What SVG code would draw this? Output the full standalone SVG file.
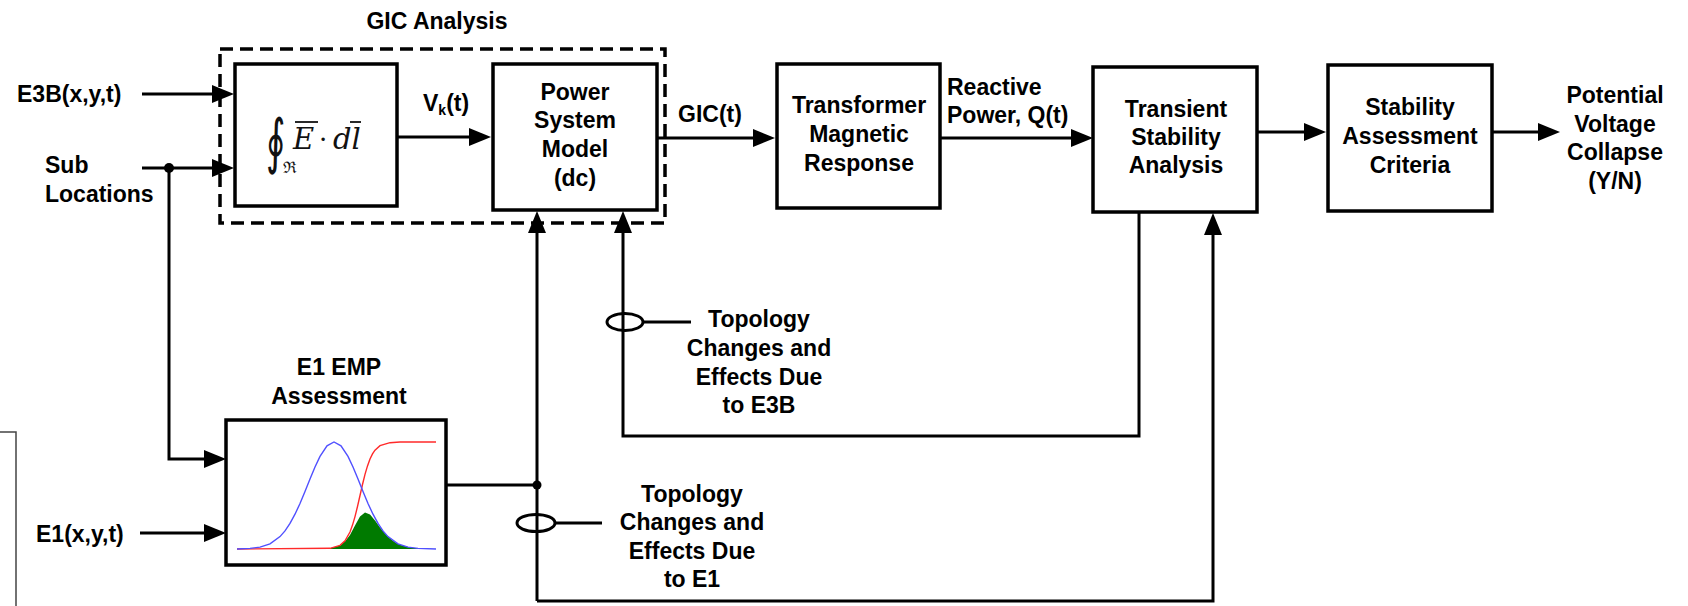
<svg xmlns="http://www.w3.org/2000/svg" width="1688" height="606" viewBox="0 0 1688 606">
  <style>
    .t { font-family: "Liberation Sans", Arial, sans-serif; font-weight: bold; font-size: 23px; fill: #000; }
    .m { text-anchor: middle; }
    .box { fill: #fff; stroke: #000; stroke-width: 3.5; }
    .ln { fill: none; stroke: #000; stroke-width: 3; }
    .ar { marker-end: url(#head); }
    .math { font-family: "DejaVu Serif", "Liberation Serif", serif; fill: #111; }
    .thin { fill: none; stroke: #444; stroke-width: 1.5; }
  </style>
  <defs>
    <marker id="head" markerUnits="userSpaceOnUse" markerWidth="22" markerHeight="18" refX="12" refY="9" orient="auto">
      <path d="M0,0 L22,9 L0,18 Z" fill="#000"/>
    </marker>
  </defs>

  <rect width="1688" height="606" fill="#fff"/>

  <!-- partial frame at the left edge -->
  <path class="thin" d="M0,432 H16 V606"/>

  <!-- GIC analysis grouping -->
  <g id="gic-analysis">
    <rect x="220" y="49" width="445" height="174" fill="none" stroke="#000" stroke-width="3.5" stroke-dasharray="13,7"/>
    <text class="t m" x="437" y="29">GIC Analysis</text>
  </g>

  <!-- input labels -->
  <g id="e3b-input">
    <text class="t" x="17" y="102">E3B(x,y,t)</text>
  </g>
  <g id="sub-locations">
    <text class="t" x="45" y="173">Sub</text>
    <text class="t" x="45" y="202">Locations</text>
  </g>
  <g id="e1-input">
    <text class="t" x="36" y="542">E1(x,y,t)</text>
  </g>

  <!-- line integral block -->
  <g id="integral">
    <rect class="box" x="235" y="64" width="162" height="142"/>
    <text class="math" transform="translate(266,162) scale(0.62,1)" font-size="60">∮</text>
    <text class="math" x="283" y="173" font-size="16">ℜ</text>
    <text class="math" x="293" y="149" font-size="29" font-style="italic">E</text>
    <line x1="295" y1="122" x2="318" y2="122" stroke="#111" stroke-width="1.8"/>
    <text class="math" x="319" y="148" font-size="26">·</text>
    <text class="math" x="333" y="149" font-size="29" font-style="italic">dl</text>
    <line x1="350" y1="122" x2="361" y2="122" stroke="#111" stroke-width="1.8"/>
  </g>

  <g id="power-system-model">
    <rect class="box" x="493" y="64" width="164" height="146"/>
    <text class="t m" x="575" y="100">Power</text>
    <text class="t m" x="575" y="128">System</text>
    <text class="t m" x="575" y="157">Model</text>
    <text class="t m" x="575" y="186">(dc)</text>
  </g>

  <g id="transformer-response">
    <rect class="box" x="777" y="64" width="163" height="144"/>
    <text class="t m" x="859" y="113">Transformer</text>
    <text class="t m" x="859" y="142">Magnetic</text>
    <text class="t m" x="859" y="171">Response</text>
  </g>

  <g id="transient-stability">
    <rect class="box" x="1093" y="67" width="164" height="145"/>
    <text class="t m" x="1176" y="117">Transient</text>
    <text class="t m" x="1176" y="145">Stability</text>
    <text class="t m" x="1176" y="173">Analysis</text>
  </g>

  <g id="stability-criteria">
    <rect class="box" x="1328" y="65" width="164" height="146"/>
    <text class="t m" x="1410" y="115">Stability</text>
    <text class="t m" x="1410" y="144">Assessment</text>
    <text class="t m" x="1410" y="173">Criteria</text>
  </g>

  <g id="collapse-output">
    <text class="t m" x="1615" y="103">Potential</text>
    <text class="t m" x="1615" y="132">Voltage</text>
    <text class="t m" x="1615" y="160">Collapse</text>
    <text class="t m" x="1615" y="189">(Y/N)</text>
  </g>

  <!-- E1 EMP assessment block with response curves -->
  <g id="e1-emp-assessment">
    <text class="t m" x="339" y="375">E1 EMP</text>
    <text class="t m" x="339" y="404">Assessment</text>
    <rect class="box" x="226" y="420" width="220" height="145"/>
    <path fill="#007a00" d="M330,549 L330,548.3 340,545.5 345,541.6 350,534.9 355,525.6 360,516.5 365,512.4 370,514.5 375,520.5 380,527.4 385,533.6 390,538.6 395,542.2 400,544.7 410,547.5 420,548.5 436,549 Z"/>
    <polyline fill="none" stroke="#ff2a2a" stroke-width="1.4" points="237,549 330,548.3 340,545.3 345,540.9 350,532 352.5,525.1 355,516.6 357.5,506.5 360,495.5 362.5,484.5 365,474.4 367.5,465.9 370,459 372.5,453.9 375,450.1 380,445.7 390,442.7 400,442 436,442"/>
    <polyline fill="none" stroke="#5050ff" stroke-width="1.4" points="237,549 250,548.4 260,547.1 270,543.9 280,536.6 285,530.9 290,523.4 295,514.2 300,503.5 305,491.5 310,479.1 315,467 320,456.4 327,445.8 334,442 341,445.8 348,456.4 353,467 358,479.1 363,491.5 368,503.5 373,514.2 378,523.4 383,530.9 388,536.6 398,543.9 408,547.1 418,548.4 436,549"/>
  </g>

  <g id="topology-e3b">
    <text class="t m" x="759" y="327">Topology</text>
    <text class="t m" x="759" y="356">Changes and</text>
    <text class="t m" x="759" y="385">Effects Due</text>
    <text class="t m" x="759" y="413">to E3B</text>
  </g>

  <g id="topology-e1">
    <text class="t m" x="692" y="502">Topology</text>
    <text class="t m" x="692" y="530">Changes and</text>
    <text class="t m" x="692" y="559">Effects Due</text>
    <text class="t m" x="692" y="587">to E1</text>
  </g>

  <!-- connectors -->
  <g id="connectors">
    <line class="ln ar" x1="142" y1="94" x2="224" y2="94"/>
    <line class="ln ar" x1="142" y1="168" x2="224" y2="168"/>
    <circle cx="169" cy="168" r="5" fill="#000"/>
    <path class="ln ar" d="M169,168 V459 H216"/>
    <line class="ln ar" x1="140" y1="533" x2="216" y2="533"/>

    <line class="ln ar" x1="397" y1="137" x2="481" y2="137"/>
    <text class="t" x="423" y="111">V<tspan font-size="14" dy="4">k</tspan><tspan dy="-4">(t)</tspan></text>

    <line class="ln ar" x1="657" y1="138" x2="765" y2="138"/>
    <text class="t" x="678" y="122">GIC(t)</text>

    <line class="ln ar" x1="940" y1="138" x2="1083" y2="138"/>
    <text class="t" x="947" y="95">Reactive</text>
    <text class="t" x="947" y="123">Power, Q(t)</text>

    <line class="ln ar" x1="1257" y1="132" x2="1316" y2="132"/>
    <line class="ln ar" x1="1492" y1="132" x2="1550" y2="132"/>

    <!-- E1 effects: up to the dc model and round to transient stability -->
    <line class="ln" x1="446" y1="485" x2="537" y2="485"/>
    <circle cx="537" cy="485" r="4.5" fill="#000"/>
    <line class="ln ar" x1="537" y1="601" x2="537" y2="221"/>
    <path class="ln ar" d="M537,601 H1213 V223"/>
    <ellipse class="ln" cx="536" cy="523" rx="19" ry="8.5"/>
    <line class="ln" x1="555" y1="523" x2="602" y2="523"/>

    <!-- E3B effects: transient stability back to the dc model -->
    <path class="ln ar" d="M1139,212 V436 H623 V221"/>
    <ellipse class="ln" cx="625" cy="322" rx="18" ry="8.5"/>
    <line class="ln" x1="643" y1="322" x2="691" y2="322"/>
  </g>
</svg>
